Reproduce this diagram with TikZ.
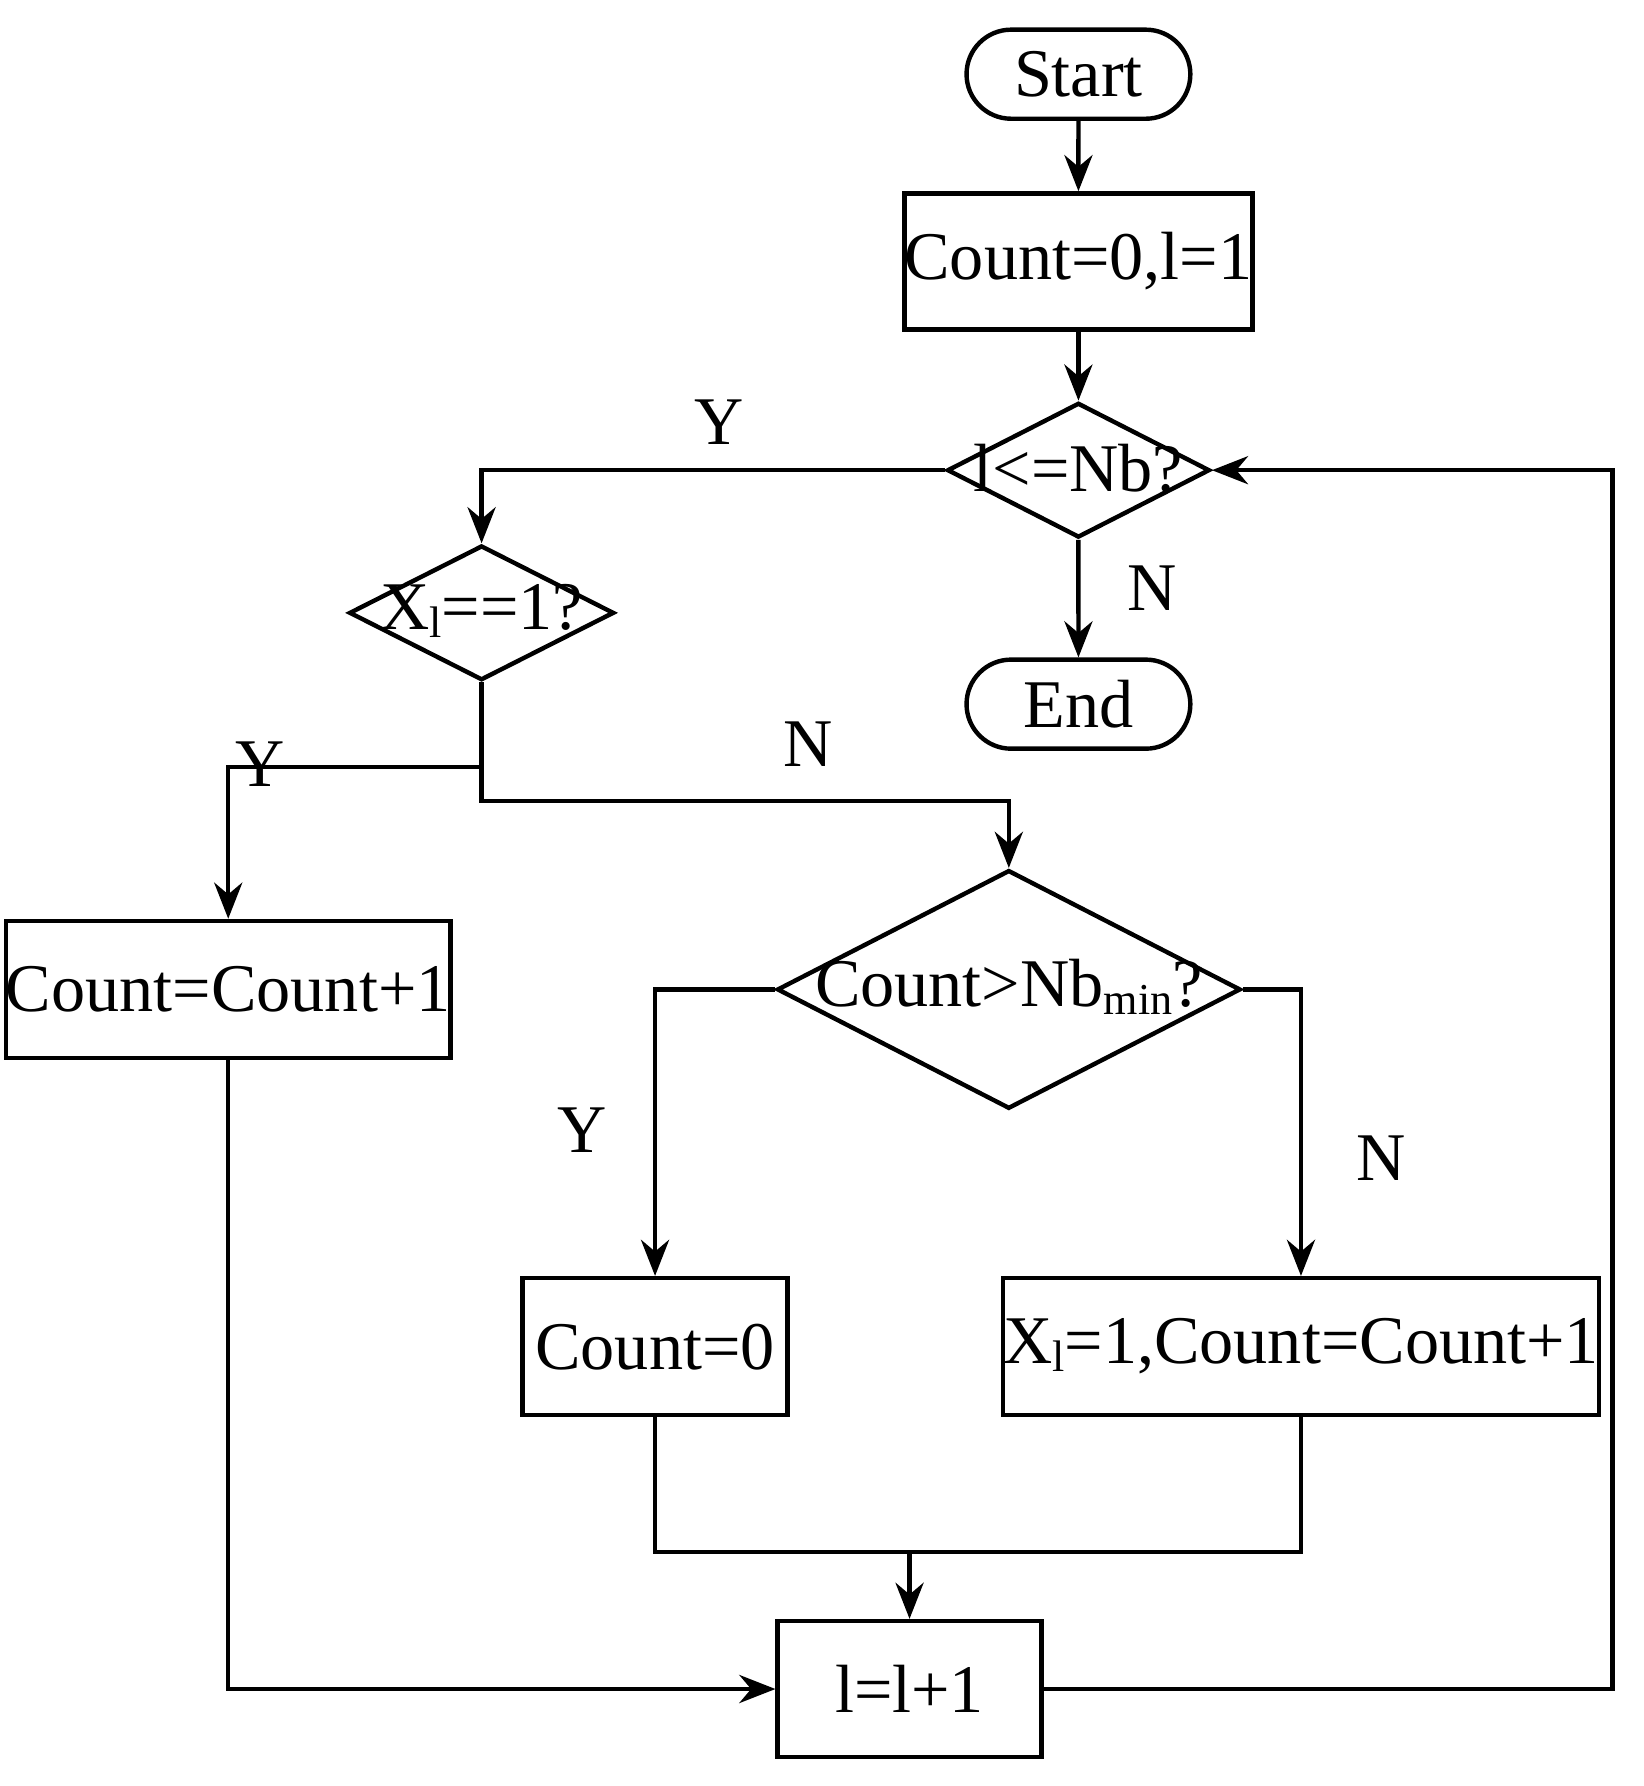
\documentclass[tikz,border=0pt]{standalone}
\usepackage{fontspec}
\setmainfont{Liberation Serif}
\usetikzlibrary{shapes.geometric,shapes.misc,arrows.meta}
\newcommand{\lsub}[1]{\raisebox{-0.25ex}{\fontsize{11}{12}\selectfont #1}}
\begin{document}
\begin{tikzpicture}[x=0.01cm,y=-0.01cm,
  every node/.style={font=\fontsize{17}{20}\selectfont},
  box/.style={draw,line width=1.1pt,inner sep=0pt},
  term/.style={draw,line width=1.1pt,rounded rectangle,minimum width=1.96cm,minimum height=0.78cm,inner sep=0pt},
  dia/.style={draw,line width=1.1pt,diamond,aspect=2,inner sep=0pt},
  line/.style={line width=1.1pt},
  arr/.style={line,-{Stealth[length=9pt,width=7pt]}},
  lab/.style={font=\fontsize{17}{20}\selectfont}]
\useasboundingbox (0,0) rectangle (1440,1565);
\node[term] (start) at (945,65) {Start};
\node[box,minimum width=2.96cm,minimum height=1.19cm] (init) at (945,229) {Count=0,l=1};
\node[dia,minimum width=2.3cm,minimum height=1.18cm] (d1) at (945,412) {};
\node at (945,410) {l<=Nb?};
\node[term] (end) at (945,617) {End};
\node[dia,minimum width=2.32cm,minimum height=1.18cm] (d2) at (422,537) {};
\node at (422,535) {X\lsub{l}==1?};
\node[box,minimum width=3.55cm,minimum height=1.2cm] (inc) at (200,867) {Count=Count+1};
\node[dia,minimum width=4.06cm,minimum height=2.09cm] (d3) at (884,867) {};
\node at (884,865) {Count>Nb\lsub{min}?};
\node[box,minimum width=2.32cm,minimum height=1.2cm] (zero) at (574,1180) {Count=0};
\node[box,minimum width=4.53cm,minimum height=1.2cm] (set) at (1140,1180) {X\lsub{l}=1,Count=Count+1};
\node[box,minimum width=2.31cm,minimum height=1.19cm] (next) at (797,1480) {l=l+1};
\coordinate (j1) at (422,672);
\coordinate (m) at (797,1360);
\draw[arr] (start) -- (init);
\draw[arr] (init) -- (d1);
\draw[arr] (d1) -- (end);
\draw[arr] (d1.west) -| (d2.north);
\draw[line] (d2.south) -- (j1);
\draw[arr] (j1) -| (inc.north);
\draw[arr] (j1) |- (884,702) -- (d3.north);
\draw[arr] (d3.west) -| (zero.north);
\draw[arr] (d3.east) -| (set.north);
\draw[line] (zero.south) |- (m);
\draw[line] (set.south) |- (m);
\draw[arr] (m) -- (next.north);
\draw[arr] (inc.south) |- (next.west);
\draw[arr] (next.east) -| (1413,412) -- (d1.east);
\node[lab] at (630,370) {Y};
\node[lab] at (1010,515) {N};
\node[lab] at (228,670) {Y};
\node[lab] at (708,652) {N};
\node[lab] at (510,990) {Y};
\node[lab] at (1210,1015) {N};
\end{tikzpicture}
\end{document}
